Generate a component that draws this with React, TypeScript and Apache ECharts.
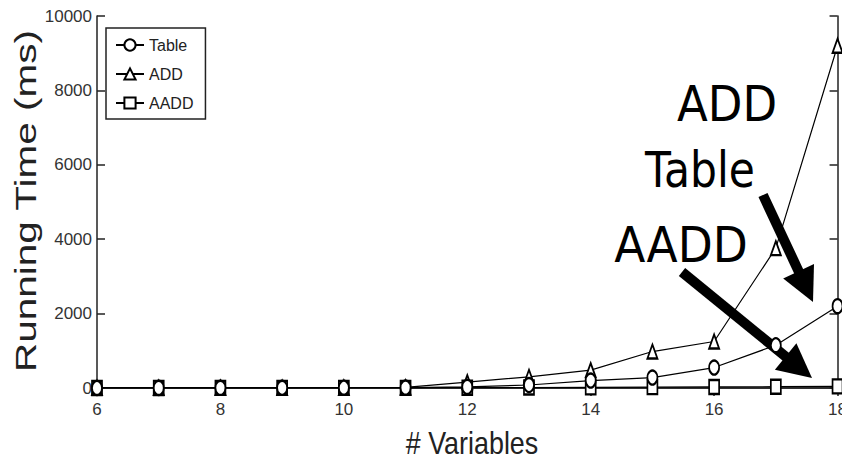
import React, { useEffect, useRef } from "react";
import * as echarts from "echarts";

const variables = [6, 7, 8, 9, 10, 11, 12, 13, 14, 15, 16, 17, 18];
const tableTimes = [2, 3, 4, 5, 7, 10, 30, 80, 200, 280, 550, 1150, 2200];
const addTimes = [2, 3, 4, 6, 8, 15, 160, 300, 480, 980, 1250, 3760, 9200];
const aaddTimes = [1, 1, 2, 2, 3, 4, 8, 12, 18, 22, 28, 35, 45];
const xTicks = { min: 6, max: 18, interval: 2 };
const yTicks = { min: 0, max: 10000, interval: 2000 };
const seriesNames = ["Table", "ADD", "AADD"];
const seriesSymbols = ["emptyCircle", "emptyTriangle", "emptyRect"];
const annotations = ["ADD", "Table", "AADD"];

const SANS = '"Liberation Sans", Arial, sans-serif';
const HAND = '"DejaVu Sans", "Noto Sans", sans-serif';

function arrow(x1: number, y1: number, x2: number, y2: number) {
  const dx = x2 - x1;
  const dy = y2 - y1;
  const len = Math.sqrt(dx * dx + dy * dy);
  const ux = dx / len;
  const uy = dy / len;
  const headLen = 34;
  const headHalf = 17;
  const bx = x2 - ux * headLen;
  const by = y2 - uy * headLen;
  return {
    type: "group",
    children: [
      {
        type: "line",
        shape: { x1, y1, x2: bx + ux * 4, y2: by + uy * 4 },
        style: { stroke: "#000", lineWidth: 10 },
      },
      {
        type: "polygon",
        shape: {
          points: [
            [x2, y2],
            [bx - uy * headHalf, by + ux * headHalf],
            [bx + uy * headHalf, by - ux * headHalf],
          ],
        },
        style: { fill: "#000" },
      },
    ],
  };
}

export default function App() {
  const ref = useRef<HTMLDivElement>(null);
  useEffect(() => {
    if (!ref.current) return;
    const chart = echarts.init(ref.current, null, { renderer: "svg" });
    const seriesValues = [tableTimes, addTimes, aaddTimes];
    const axisCommon = {
      type: "value",
      axisLine: { show: true, lineStyle: { color: "#222", width: 1.5 } },
      axisTick: { show: true, inside: true, length: 8, lineStyle: { color: "#222", width: 1.5 } },
      splitLine: { show: false },
    };
    const fmt = (v: number) => String(v);
    chart.setOption({
      animation: false,
      backgroundColor: "#fff",
      grid: { left: 97, top: 16, right: 3, bottom: 75, containLabel: false },
      legend: {
        orient: "vertical",
        left: 106,
        top: 28,
        backgroundColor: "#fff",
        borderColor: "#222",
        borderWidth: 1.5,
        borderRadius: 0,
        padding: [9, 12, 8, 9],
        itemWidth: 28,
        itemHeight: 14,
        itemGap: 13,
        data: seriesNames,
        textStyle: { fontFamily: SANS, fontSize: 16, color: "#222" },
      },
      xAxis: [
        {
          ...axisCommon,
          ...xTicks,
          position: "bottom",
          axisLabel: { fontFamily: SANS, fontSize: 17, color: "#333", margin: 13, formatter: fmt },
        },
        {
          ...axisCommon,
          ...xTicks,
          position: "top",
          axisLabel: { show: false },
        },
      ],
      yAxis: [
        {
          ...axisCommon,
          ...yTicks,
          position: "left",
          axisLabel: { fontFamily: SANS, fontSize: 17, color: "#333", margin: 5, formatter: fmt },
        },
        {
          ...axisCommon,
          ...yTicks,
          position: "right",
          axisLabel: { show: false },
        },
      ],
      series: seriesNames.map((name, i) => ({
        name,
        type: "line",
        xAxisIndex: 0,
        yAxisIndex: 0,
        symbol: seriesSymbols[i],
        symbolSize: [10, 14],
        color: "#000",
        lineStyle: { color: "#000", width: 1.2 },
        itemStyle: { color: "#000", borderColor: "#000", borderWidth: 1.5 },
        data: variables.map((v, j) => [v, seriesValues[i][j]]),
        z: 3 - i,
      })),
      graphic: [
        {
          type: "text",
          x: 26,
          y: 201,
          rotation: Math.PI / 2,
          scaleX: 1.35,
          style: {
            text: "Running Time (ms)",
            font: `30px ${SANS}`,
            fill: "#222",
            align: "center",
            verticalAlign: "middle",
          },
        },
        {
          type: "text",
          x: 472,
          y: 443,
          scaleX: 0.84,
          style: {
            text: "# Variables",
            font: `32px ${SANS}`,
            fill: "#222",
            align: "center",
            verticalAlign: "middle",
          },
        },
        {
          type: "text",
          x: 727,
          y: 104,
          scaleX: 0.9,
          style: { text: annotations[0], font: `50px ${HAND}`, fill: "#000", align: "center", verticalAlign: "middle" },
        },
        {
          type: "text",
          x: 700,
          y: 170,
          scaleX: 0.85,
          style: { text: annotations[1], font: `50px ${HAND}`, fill: "#000", align: "center", verticalAlign: "middle" },
        },
        {
          type: "text",
          x: 681,
          y: 245,
          scaleX: 0.91,
          style: { text: annotations[2], font: `50px ${HAND}`, fill: "#000", align: "center", verticalAlign: "middle" },
        },
        arrow(763, 195, 813, 302),
        arrow(682, 272, 812, 378),
      ],
    });
    return () => chart.dispose();
  }, []);
  return <div ref={ref} style={{ width: 850, height: 463, margin: -8 }} />;
}
